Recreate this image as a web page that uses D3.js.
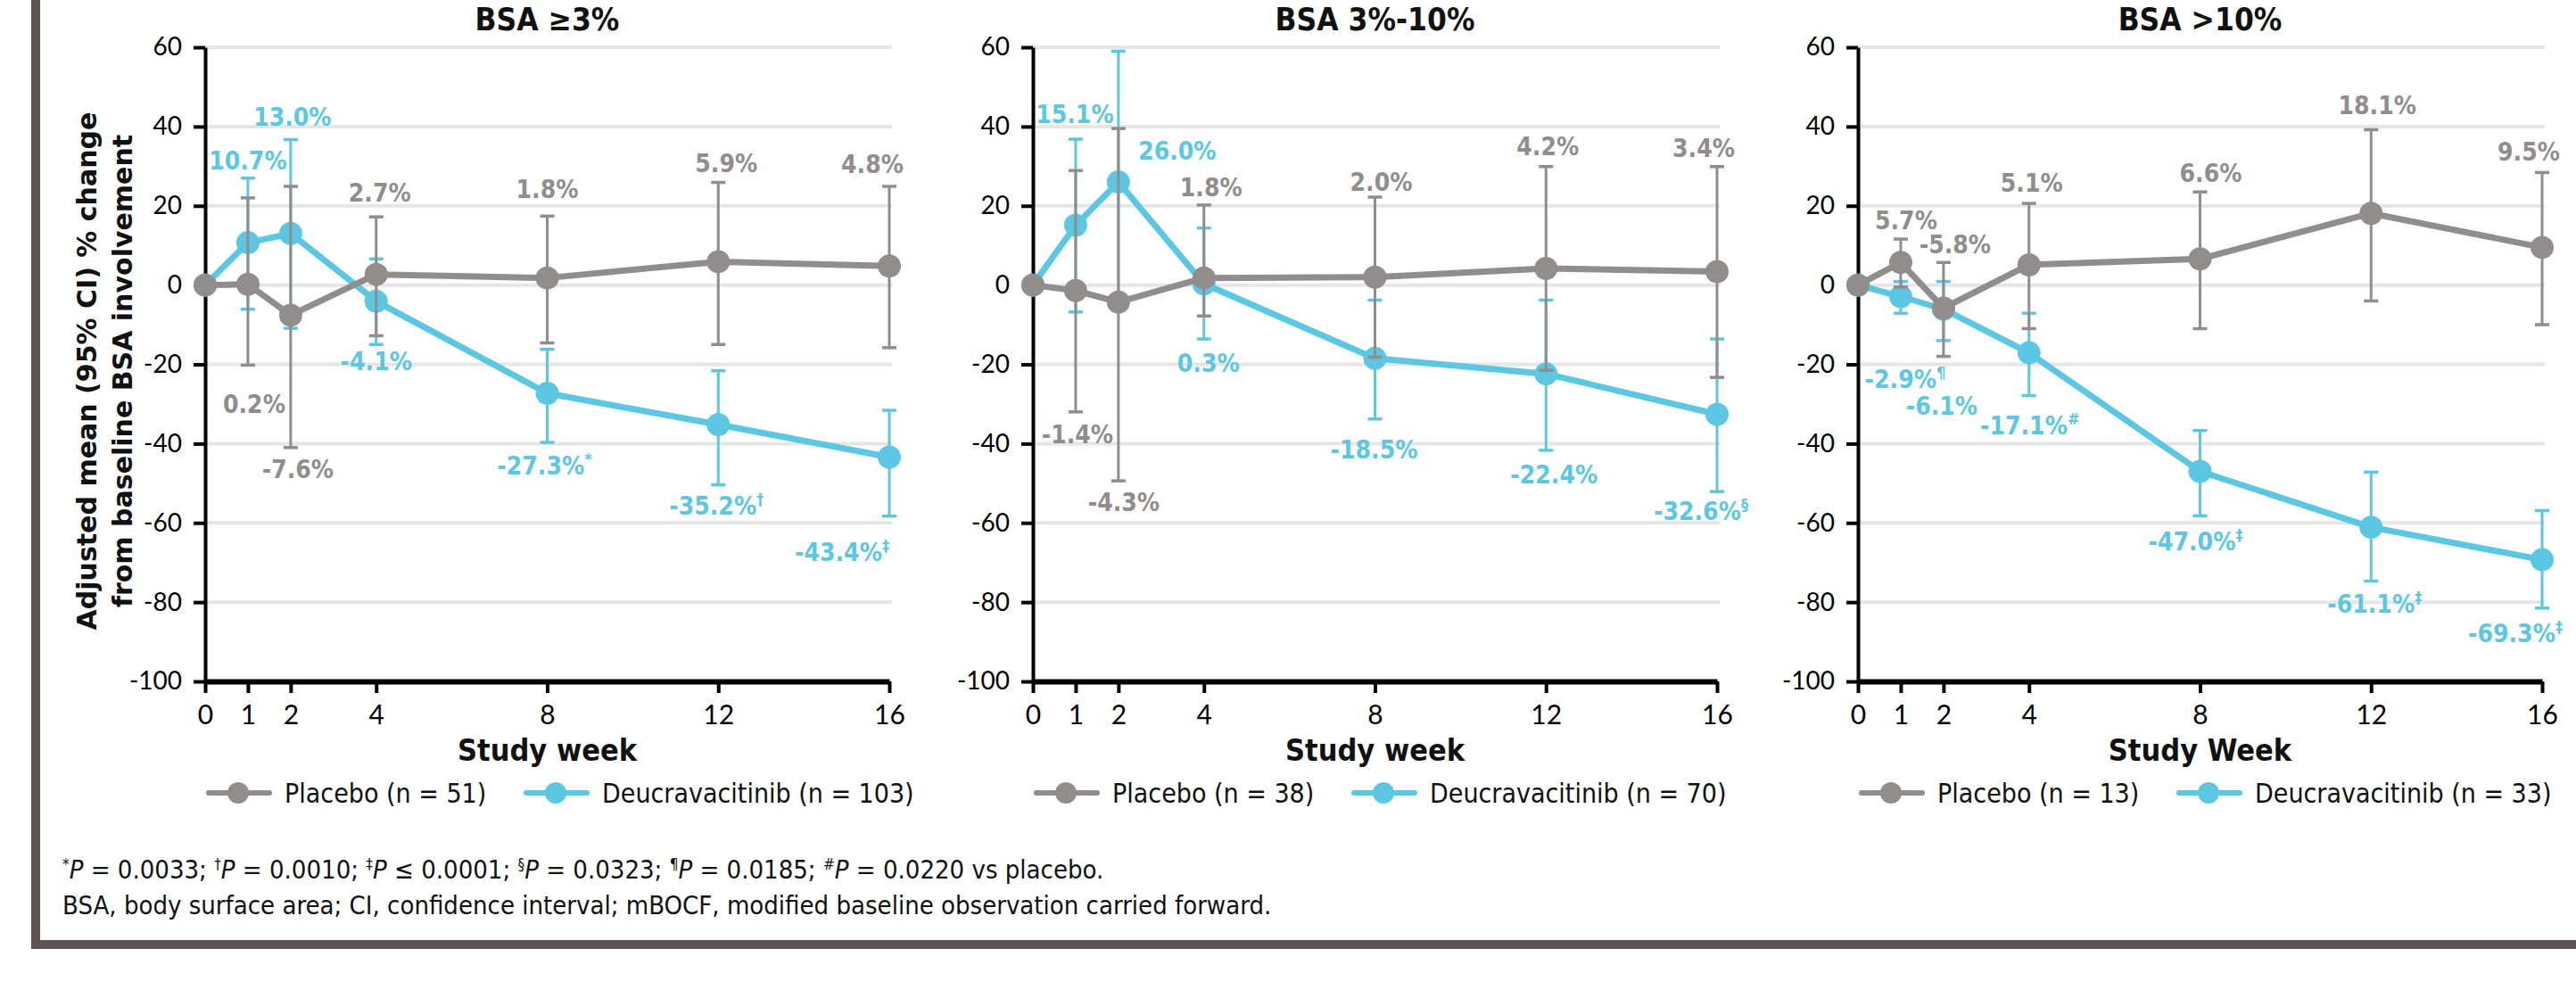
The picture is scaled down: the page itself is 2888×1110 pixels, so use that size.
<!DOCTYPE html>
<html>
<head>
<meta charset="utf-8">
<script src="https://cdn.jsdelivr.net/npm/d3@7"></script>
<style>
    html, body { margin: 0; padding: 0; background: #ffffff; }
    svg { display: block; }
    .cond { font-family: "DejaVu Sans Condensed", "DejaVu Sans", sans-serif; font-stretch: condensed; }
</style>
</head>
<body>
<script>
    // values
    var weeks = [0, 1, 2, 4, 8, 12, 16];
    var yTicks = [60, 40, 20, 0, -20, -40, -60, -80, -100];
    var panelTitles = ["BSA \u22653%", "BSA 3%-10%", "BSA >10%"];
    var xTitles = ["Study week", "Study week", "Study Week"];
    var placeboN = [51, 38, 13];
    var deucN = [103, 70, 33];

    var placeboMean = [
        [0, 0.2, -7.6, 2.7, 1.8, 5.9, 4.8],
        [0, -1.4, -4.3, 1.8, 2.0, 4.2, 3.4],
        [0, 5.7, -5.8, 5.1, 6.6, 18.1, 9.5]
    ];
    var placeboLow = [
        [null, -20.2, -41.0, -12.8, -14.6, -15.0, -15.8],
        [null, -32.0, -49.4, -7.8, -18.2, -21.5, -23.3],
        [null, -0.5, -18.0, -11.0, -11.0, -4.0, -10.0]
    ];
    var placeboHigh = [
        [null, 22.0, 24.9, 17.2, 17.4, 25.9, 24.9],
        [null, 28.9, 39.5, 20.2, 22.2, 29.9, 29.9],
        [null, 11.6, 5.7, 20.6, 23.5, 39.2, 28.4]
    ];

    var deucMean = [
        [0, 10.7, 13.0, -4.1, -27.3, -35.2, -43.4],
        [0, 15.1, 26.0, 0.3, -18.5, -22.4, -32.6],
        [0, -2.9, -6.1, -17.1, -47.0, -61.1, -69.3]
    ];
    var deucLow = [
        [null, -6.1, -10.9, -15.0, -39.7, -50.4, -58.3],
        [null, -6.8, -5.0, -13.6, -33.8, -41.7, -52.1],
        [null, -7.1, -14.0, -27.9, -58.2, -74.7, -81.5]
    ];
    var deucHigh = [
        [null, 27.0, 36.7, 6.6, -16.2, -21.6, -31.6],
        [null, 36.8, 59.0, 14.4, -3.8, -3.8, -13.6],
        [null, 0.9, 0.9, -7.1, -36.7, -47.2, -56.9]
    ];
    var deucMarks = [
        ["", "", "", "", "*", "\u2020", "\u2021"],
        ["", "", "", "", "", "", "\u00a7"],
        ["", "\u00b6", "", "#", "\u2021", "\u2021", "\u2021"]
    ];

    // label placement: side (u = above upper CI, l = below lower CI, p = from point), dx, dy
    var placeboLabelPos = [
        [null, ["l", 7, 54], ["l", 8, 34], ["u", 4, -17], ["u", 0, -20], ["u", 9, -12], ["u", -19, -15]],
        [null, ["l", 2, 35], ["l", 6, 34], ["u", 8, -10], ["u", 7, -7], ["u", 2, -13], ["u", -15, -11]],
        [null, ["u", 6, -11], ["u", 13, -10], ["u", 3, -13], ["u", 12, -11], ["u", 7, -17], ["u", -15, -13]]
    ];
    var deucLabelPos = [
        [null, ["u", 0, -10], ["u", 2, -16], ["l", 0, 29], ["l", -3, 36], ["l", -2, 33], ["l", -53, 50]],
        [null, ["u", -1, -18], ["p", 66, -25], ["l", 5, 37], ["l", -1, 44], ["l", 9, 37], ["l", -18, 32]],
        [null, ["l", 5, 84], ["l", -2, 83], ["l", 1, 43], ["l", -5, 39], ["l", 4, 35], ["l", -30, 38]]
    ];

    var footnotes = [
        [["*", "s"], ["P", "i"], [" = 0.0033; ", ""], ["\u2020", "s"], ["P", "i"], [" = 0.0010; ", ""],
         ["\u2021", "s"], ["P", "i"], [" \u2264 0.0001; ", ""], ["\u00a7", "s"], ["P", "i"], [" = 0.0323; ", ""],
         ["\u00b6", "s"], ["P", "i"], [" = 0.0185; ", ""], ["#", "s"], ["P", "i"], [" = 0.0220 vs placebo.", ""]],
        [["BSA, body surface area; CI, confidence interval; mBOCF, modified baseline observation carried forward.", ""]]
    ];

    var GRAY = "#928d8d";
    var CYAN = "#5bc7e2";
    var FRAME = "#5b5453";

    window.onload = function() {
        var width = 2888, height = 1110;
        var panelLeft = [230, 1158, 2083];
        var plotW = 767;
        var top = 53, bottom = 764;

        var svg = d3.select("body").append("svg")
            .attr("width", width)
            .attr("height", height);

        //frame
        svg.append("rect").attr("x", 35).attr("y", 0).attr("width", 10).attr("height", 1064).attr("fill", FRAME);
        svg.append("rect").attr("x", 35).attr("y", 1054).attr("width", width - 35).attr("height", 10).attr("fill", FRAME);

        var yScale = d3.scaleLinear().domain([-100, 60]).range([bottom, top]);

        //y title
        var yTitle = svg.append("g")
            .attr("transform", "translate(0," + 416 + ")")
            .style("font-family", "'DejaVu Sans', sans-serif")
            .style("font-weight", "bold")
            .style("font-size", "30px")
            .attr("fill", "#111");
        yTitle.append("text")
            .attr("transform", "translate(108,0) rotate(-90)")
            .attr("text-anchor", "middle")
            .text("Adjusted mean (95% CI) % change");
        yTitle.append("text")
            .attr("transform", "translate(148,0) rotate(-90)")
            .attr("text-anchor", "middle")
            .text("from baseline BSA involvement");

        function addLabel(g, text, mark, x, y, color) {
            var t = g.append("text")
                .attr("class", "cond")
                .attr("x", x)
                .attr("y", y)
                .attr("text-anchor", "middle")
                .attr("fill", color)
                .style("font-size", "28px")
                .style("font-weight", "bold")
                .text(text);
            if (mark) {
                t.append("tspan")
                    .attr("dy", -11)
                    .style("font-size", "18px")
                    .text(mark);
            }
        }

        panelLeft.forEach(function(x0, p) {
            var xScale = d3.scaleLinear().domain([0, 16]).range([x0, x0 + plotW]);
            var g = svg.append("g").attr("id", "panel" + p);
            var cx = x0 + plotW / 2;

            //grid
            g.append("g").selectAll("line")
                .data(yTicks.filter(d => d > -100))
                .enter()
                .append("line")
                .attr("x1", x0)
                .attr("x2", x0 + plotW + 3)
                .attr("y1", d => yScale(d))
                .attr("y2", d => yScale(d))
                .attr("stroke", "#e6e6e6")
                .attr("stroke-width", 4);

            //title
            g.append("text")
                .attr("class", "cond")
                .attr("x", cx)
                .attr("y", 34)
                .attr("text-anchor", "middle")
                .style("font-size", "35px")
                .style("font-weight", "bold")
                .attr("fill", "#111")
                .text(panelTitles[p]);

            //axes
            var yAxis = g.append("g")
                .attr("transform", "translate(" + x0 + ",0)")
                .call(d3.axisLeft(yScale).tickValues(yTicks).tickFormat(d => String(d))
                    .tickSize(13).tickSizeOuter(0).tickPadding(13));
            yAxis.select(".domain").attr("stroke", "#000").attr("stroke-width", 4);
            yAxis.selectAll(".tick line").attr("stroke", "#000").attr("stroke-width", 4);
            yAxis.selectAll("text")
                .style("font-family", "Lato, sans-serif")
                .style("font-size", "28px")
                .attr("fill", "#000");

            var xAxis = g.append("g")
                .attr("transform", "translate(0," + bottom + ")")
                .call(d3.axisBottom(xScale).tickValues(weeks).tickSize(13).tickSizeOuter(0).tickPadding(14));
            xAxis.select(".domain").attr("stroke", "#000").attr("stroke-width", 6);
            xAxis.selectAll(".tick line").attr("stroke", "#000").attr("stroke-width", 4);
            xAxis.selectAll("text")
                .style("font-family", "Lato, sans-serif")
                .style("font-size", "30px")
                .attr("fill", "#000");

            //x title
            g.append("text")
                .attr("class", "cond")
                .attr("x", cx)
                .attr("y", 853)
                .attr("text-anchor", "middle")
                .style("font-size", "34px")
                .style("font-weight", "bold")
                .attr("fill", "#111")
                .text(xTitles[p]);

            var series = [
                {mean: deucMean[p], low: deucLow[p], high: deucHigh[p], color: CYAN, pos: deucLabelPos[p], marks: deucMarks[p]},
                {mean: placeboMean[p], low: placeboLow[p], high: placeboHigh[p], color: GRAY, pos: placeboLabelPos[p], marks: null}
            ];

            var line = d3.line()
                .x((d, i) => xScale(weeks[i]))
                .y(d => yScale(d));

            series.forEach(function(s) {
                var sg = g.append("g");
                var pts = weeks.map((w, i) => ({w: w, m: s.mean[i], lo: s.low[i], hi: s.high[i]}))
                    .filter(d => d.lo !== null);

                //error bars
                sg.selectAll("line.bar")
                    .data(pts)
                    .enter()
                    .append("line")
                    .attr("class", "bar")
                    .attr("x1", d => xScale(d.w))
                    .attr("x2", d => xScale(d.w))
                    .attr("y1", d => yScale(d.lo))
                    .attr("y2", d => yScale(d.hi))
                    .attr("stroke", s.color)
                    .attr("stroke-width", 3);
                ["lo", "hi"].forEach(function(k) {
                    sg.selectAll("line.cap" + k)
                        .data(pts)
                        .enter()
                        .append("line")
                        .attr("class", "cap" + k)
                        .attr("x1", d => xScale(d.w) - 8)
                        .attr("x2", d => xScale(d.w) + 8)
                        .attr("y1", d => yScale(d[k]))
                        .attr("y2", d => yScale(d[k]))
                        .attr("stroke", s.color)
                        .attr("stroke-width", 3.5);
                });

                sg.append("path")
                    .datum(s.mean)
                    .attr("d", line)
                    .attr("fill", "none")
                    .attr("stroke", s.color)
                    .attr("stroke-width", 7)
                    .attr("stroke-linejoin", "round");

                sg.selectAll("circle")
                    .data(s.mean)
                    .enter()
                    .append("circle")
                    .attr("cx", (d, i) => xScale(weeks[i]))
                    .attr("cy", d => yScale(d))
                    .attr("r", 13)
                    .attr("fill", s.color);
            });

            //value labels on top
            series.forEach(function(s) {
                var lg = g.append("g");
                s.mean.forEach(function(v, i) {
                    var pos = s.pos[i];
                    if (!pos) return;
                    var ref = pos[0] == "u" ? s.high[i] : (pos[0] == "l" ? s.low[i] : v);
                    addLabel(lg, v.toFixed(1) + "%", s.marks ? s.marks[i] : "",
                        xScale(weeks[i]) + pos[1], yScale(ref) + pos[2], s.color);
                });
            });

            //legend
            var leg = g.append("g").attr("transform", "translate(" + (x0 + 2) + ",889)");
            [["Placebo (n = " + placeboN[p] + ")", GRAY, 0], ["Deucravacitinib (n = " + deucN[p] + ")", CYAN, 356]]
                .forEach(function(it) {
                    leg.append("line")
                        .attr("x1", it[2] + 2).attr("x2", it[2] + 70)
                        .attr("y1", 0).attr("y2", 0)
                        .attr("stroke", it[1]).attr("stroke-width", 6)
                        .attr("stroke-linecap", "round");
                    leg.append("circle")
                        .attr("cx", it[2] + 35).attr("cy", 0).attr("r", 12)
                        .attr("fill", it[1]);
                    leg.append("text")
                        .attr("class", "cond")
                        .attr("x", it[2] + 87)
                        .attr("y", 11)
                        .style("font-size", "30px")
                        .attr("fill", "#111")
                        .text(it[0]);
                });
        });

        //footnotes
        footnotes.forEach(function(parts, li) {
            var t = svg.append("text")
                .attr("class", "cond")
                .attr("x", 70)
                .attr("y", 985 + li * 40)
                .style("font-size", "29px")
                .attr("fill", "#111");
            var raised = false;
            parts.forEach(function(pt) {
                var ts = t.append("tspan").text(pt[0]);
                if (pt[1] == "i") ts.style("font-style", "italic");
                if (pt[1] == "s") ts.style("font-size", "17px").attr("dy", -10);
                if (pt[1] != "s" && raised) ts.attr("dy", 10);
                raised = pt[1] == "s";
            });
        });
    };
</script>
</body>
</html>
